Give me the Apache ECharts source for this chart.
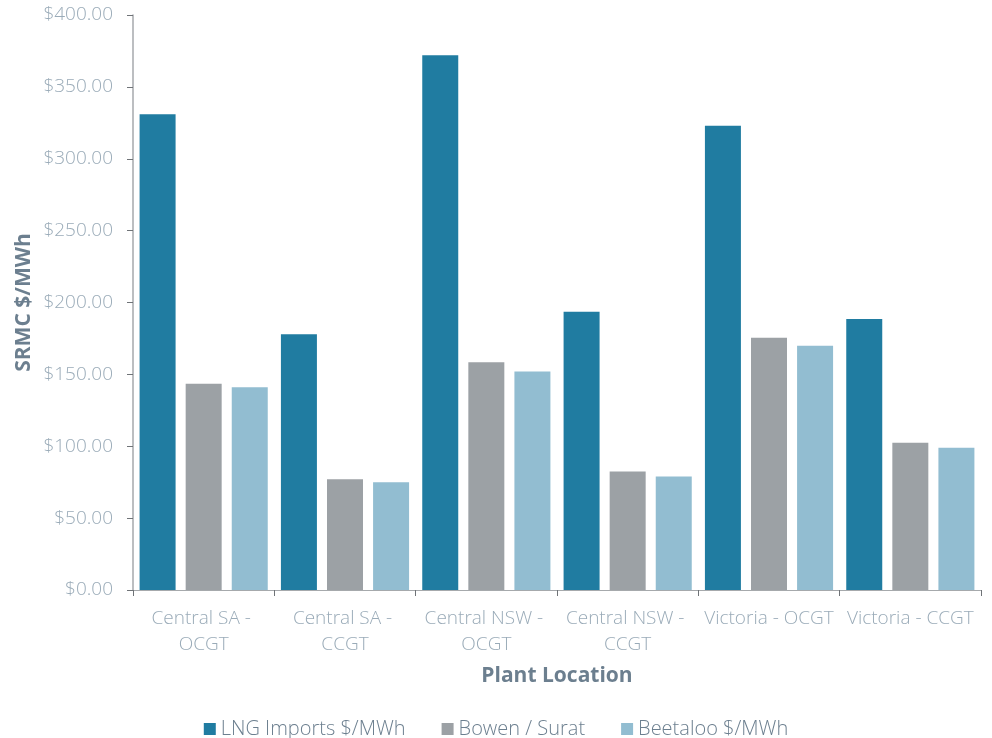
<!DOCTYPE html>
<html>
<head>
<meta charset="utf-8">
<title>SRMC by Plant Location</title>
<script src="https://cdn.jsdelivr.net/npm/echarts@6/dist/echarts.min.js"></script>
<style>
  html, body { margin: 0; padding: 0; background: #ffffff; }
  #chart { width: 992px; height: 738px; }
</style>
</head>
<body>
<div id="chart"></div>
<script>
// Plant locations along the category axis
const categories = [
  'Central SA - OCGT',
  'Central SA - CCGT',
  'Central NSW - OCGT',
  'Central NSW - CCGT',
  'Victoria - OCGT',
  'Victoria - CCGT'
];

// Short-run marginal cost, $/MWh, per gas source
const lngImports = [331, 178, 372, 193.5, 323, 188.5];
const bowenSurat = [143.5, 77, 158.5, 82.5, 175.5, 102.5];
const beetaloo   = [141, 75, 152, 79, 170, 99];

const seriesNames = ['LNG Imports $/MWh', 'Bowen / Surat', 'Beetaloo $/MWh'];
const seriesColors = ['#207ca1', '#9ca1a5', '#92bdd1'];
const seriesValues = [lngImports, bowenSurat, beetaloo];

const fontFamily = '"Open Sans", "Noto Sans", sans-serif';
const labelColor = '#9aabb8';
const titleColor = '#6c7f8f';

const chart = echarts.init(document.getElementById('chart'), null, { renderer: 'canvas' });

chart.setOption({
  animation: false,
  textStyle: { fontFamily: fontFamily },
  grid: { left: 133, right: 11, top: 15, bottom: 148 },
  legend: {
    top: 714,
    left: 'center',
    itemWidth: 12,
    itemHeight: 12,
    itemGap: 36,
    icon: 'rect',
    textStyle: { color: titleColor, fontSize: 20, fontWeight: 300, fontFamily: fontFamily }
  },
  xAxis: {
    type: 'category',
    data: categories,
    name: 'Plant Location',
    nameLocation: 'middle',
    nameGap: 76,
    nameMoveOverlap: false,
    nameTextStyle: { color: titleColor, fontSize: 21, fontWeight: 'bold', fontFamily: fontFamily },
    axisLine: { lineStyle: { color: '#a6a9ac', width: 1 } },
    axisTick: { show: true, alignWithLabel: false, length: 6, lineStyle: { color: '#6f7377' } },
    axisLabel: {
      color: labelColor,
      fontSize: 19,
      fontWeight: 300,
      lineHeight: 26,
      margin: 16,
      width: 138,
      overflow: 'break',
      interval: 0,
      align: 'center'
    }
  },
  yAxis: {
    type: 'value',
    min: 0,
    max: 400,
    interval: 50,
    name: 'SRMC $/MWh',
    nameLocation: 'middle',
    nameRotate: 90,
    nameGap: 98,
    nameMoveOverlap: false,
    nameTextStyle: { color: titleColor, fontSize: 21, fontWeight: 'bold', fontFamily: fontFamily },
    splitLine: { show: false },
    axisLine: { show: true, lineStyle: { color: '#a6a9ac', width: 1.5 } },
    axisTick: { show: true, length: 6, lineStyle: { color: '#6f7377' } },
    axisLabel: {
      color: labelColor,
      fontSize: 19,
      fontWeight: 300,
      margin: 20,
      formatter: v => '$' + v.toFixed(2)
    }
  },
  series: seriesNames.map((name, i) => ({
    name: name,
    type: 'bar',
    data: seriesValues[i],
    barWidth: 36,
    barGap: '28%',
    itemStyle: { color: seriesColors[i] }
  }))
});
</script>
</body>
</html>
